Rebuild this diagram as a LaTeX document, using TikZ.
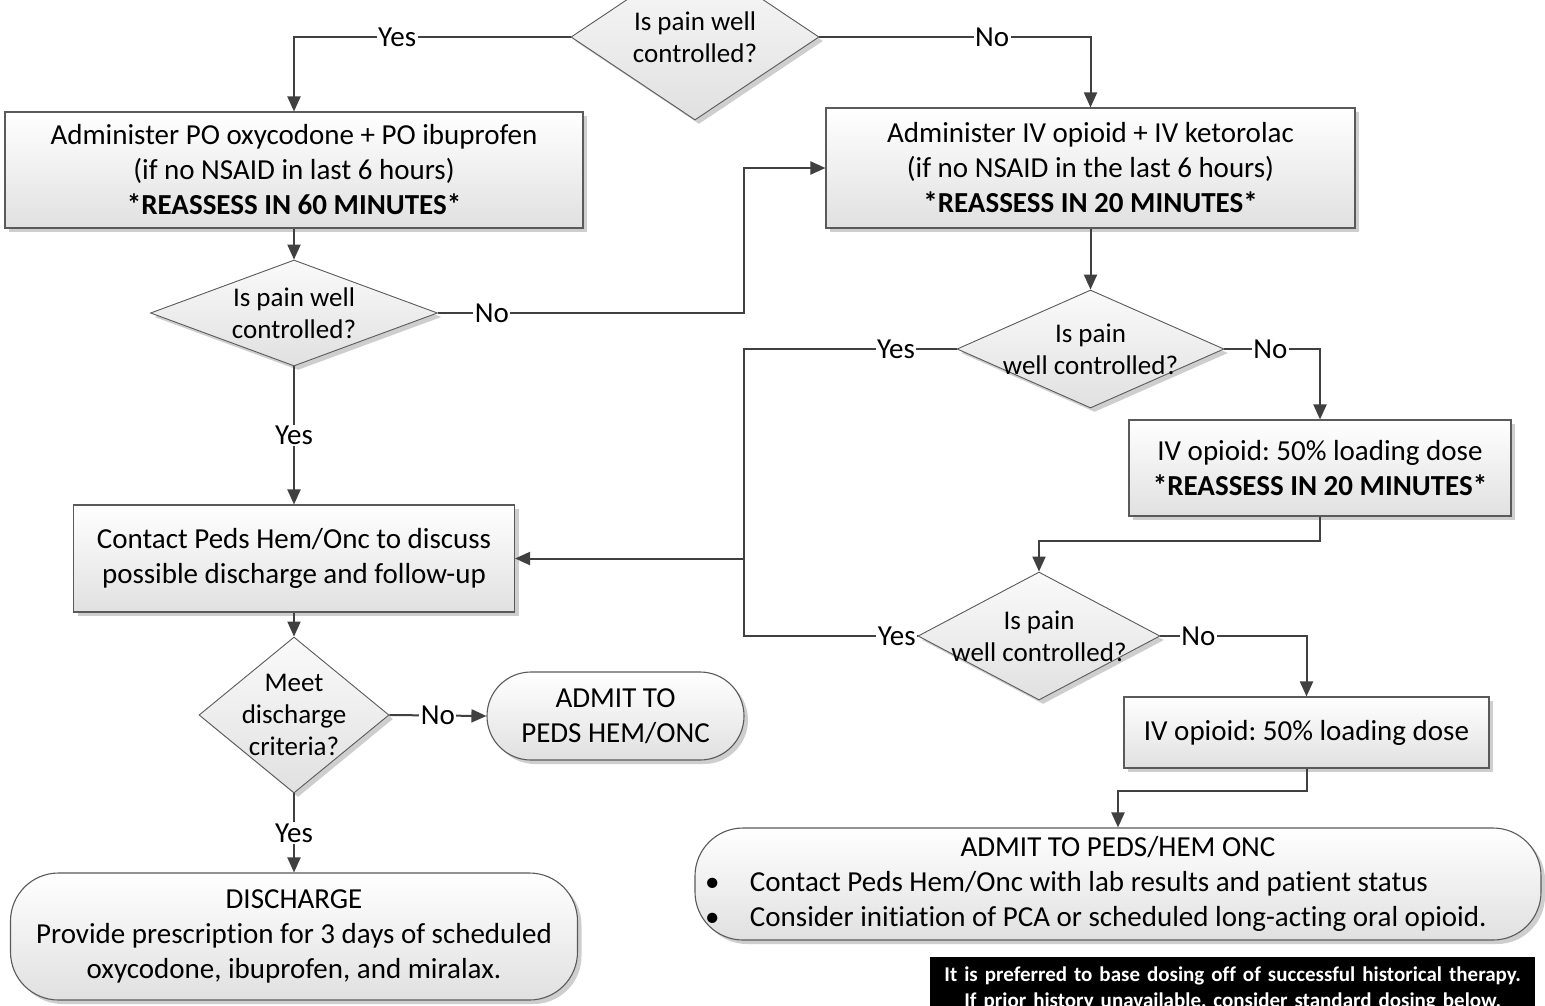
\documentclass[tikz,border=0pt]{standalone}
\usepackage{fontspec}
\setmainfont{Carlito}[Ligatures=NoCommon]
\usetikzlibrary{shapes.geometric,arrows.meta,shadows}
\definecolor{ln}{HTML}{404040}
\definecolor{bd}{HTML}{5A5A5A}
\frenchspacing
\begin{document}
\begin{tikzpicture}[x=1pt,y=-1pt,
  every node/.style={font=\fontsize{29}{35}\selectfont, text=black},
  shad/.style={drop shadow={shadow xshift=4pt,shadow yshift=-4pt,fill=black!35,opacity=.55}},
  box/.style={rectangle, draw=bd, line width=1.1pt, top color=white, bottom color=black!12, shad, inner sep=0pt, align=center},
  term/.style={box, rounded corners=48pt},
  dec/.style={diamond, draw=bd, line width=0.9pt, top color=black!2, bottom color=black!12, shad, inner sep=0pt},
  dlab/.style={font=\fontsize{27}{32}\selectfont, align=center, inner sep=0pt},
  conn/.style={draw=ln, line width=2pt},
  arr/.style={conn, -{Triangle[length=15pt,width=13pt]}},
  lbl/.style={fill=white, inner sep=1.5pt}
]
\useasboundingbox (0,0) rectangle (1545,1005);
\fill[white] (0,0) rectangle (1545,1005);

% nodes
\node[dec, minimum width=248pt, minimum height=166pt, label={[dlab]center:Is pain well\\controlled?}] (d1) at (695,37) {};
\node[box, minimum width=578pt, minimum height=116pt] (b1) at (294,170) {Administer PO oxycodone + PO ibuprofen\\(if no NSAID in last 6 hours)\\\textbf{*REASSESS IN 60 MINUTES*}};
\node[box, minimum width=529pt, minimum height=120pt] (b2) at (1090.5,168) {Administer IV opioid + IV ketorolac\\(if no NSAID in the last 6 hours)\\\textbf{*REASSESS IN 20 MINUTES*}};
\node[dec, minimum width=287pt, minimum height=106pt, label={[dlab]center:Is pain well\\controlled?}] (d2) at (294,313) {};
\node[box, minimum width=441pt, minimum height=107pt] (b3) at (294,558.5) {Contact Peds Hem/Onc to discuss\\possible discharge and follow-up};
\node[dec, minimum width=267pt, minimum height=118pt, label={[dlab]center:Is pain\\well controlled?}] (d3) at (1090.5,349) {};
\node[box, minimum width=382pt, minimum height=96pt] (b4) at (1320,468) {IV opioid: 50\% loading dose\\\textbf{*REASSESS IN 20 MINUTES*}};
\node[dec, minimum width=242pt, minimum height=128pt, label={[dlab]center:Is pain\\well controlled?}] (d4) at (1039,636) {};
\node[box, minimum width=365pt, minimum height=71pt] (b5) at (1306.5,732.5) {IV opioid: 50\% loading dose};
\node[term, minimum width=846pt, minimum height=112pt] (t2) at (1118,884) {\parbox{846pt}{\centering ADMIT TO PEDS/HEM ONC\par\raggedright
  \hspace*{10pt}\makebox[45pt][l]{\textbullet}Contact Peds Hem/Onc with lab results and patient status\par
  \hspace*{10pt}\makebox[45pt][l]{\textbullet}Consider initiation of PCA or scheduled long-acting oral opioid.}};
\node[dec, minimum width=190pt, minimum height=156pt, label={[dlab]center:Meet\\discharge\\criteria?}] (d5) at (294,715) {};
\node[term, rounded corners=44pt, minimum width=257pt, minimum height=88pt] (t1) at (615.5,716) {ADMIT TO\\PEDS HEM/ONC};
\node[term, minimum width=567pt, minimum height=127pt] (t3) at (294,936.5) {DISCHARGE\\Provide prescription for 3 days of scheduled\\oxycodone, ibuprofen, and miralax.};
\node[fill=black, text=white, anchor=north west, minimum width=605pt, text width=605pt, align=center, inner xsep=0pt, inner ysep=10pt, font=\fontsize{21}{26}\selectfont\bfseries] (note) at (930,957) {It is preferred to base dosing off of successful historical therapy.\\If prior history unavailable, consider standard dosing below.\\[0pt]\strut};

% connectors
\coordinate (j1) at (744,0);
\coordinate (j2) at (b3.east -| j1);
\draw[arr] (d1.west) -- node[lbl,pos=0.627]{Yes} (d1.west -| b1.north) -- (b1.north);
\draw[arr] (d1.east) -- node[lbl,pos=0.637]{No} (d1.east -| b2.north) -- (b2.north);
\draw[arr] (b1.south) -- (d2.north);
\draw[arr] (d2.east) -- node[lbl,pos=0.176]{No} (d2.east -| j1) |- (b2.west);
\draw[arr] (d2.south) -- node[lbl,pos=0.5]{Yes} (b3.north);
\draw[arr] (b2.south) -- (d3.north);
\draw[conn] (d3.west) -- node[lbl,pos=0.285]{Yes} (d3.west -| j1) -- (j2);
\draw[conn] (d4.west) -- node[lbl,pos=0.12]{Yes} (d4.west -| j1) -- (j2);
\draw[arr] (j2) -- (b3.east);
\draw[arr] (d3.east) -- node[lbl,pos=0.48]{No} (d3.east -| b4.north) -- (b4.north);
\draw[arr] (b4.south) -- ++(0,24) -| (d4.north);
\draw[arr] (d4.east) -- node[lbl,pos=0.26]{No} (d4.east -| b5.north) -- (b5.north);
\draw[arr] (b5.south) -- ++(0,22) -| (t2.north);
\draw[arr] (b3.south) -- (d5.north);
\draw[arr] (d5.east) -- node[lbl]{No} (t1.west);
\draw[arr] (d5.south) -- node[lbl]{Yes} (t3.north);
\end{tikzpicture}
\end{document}
